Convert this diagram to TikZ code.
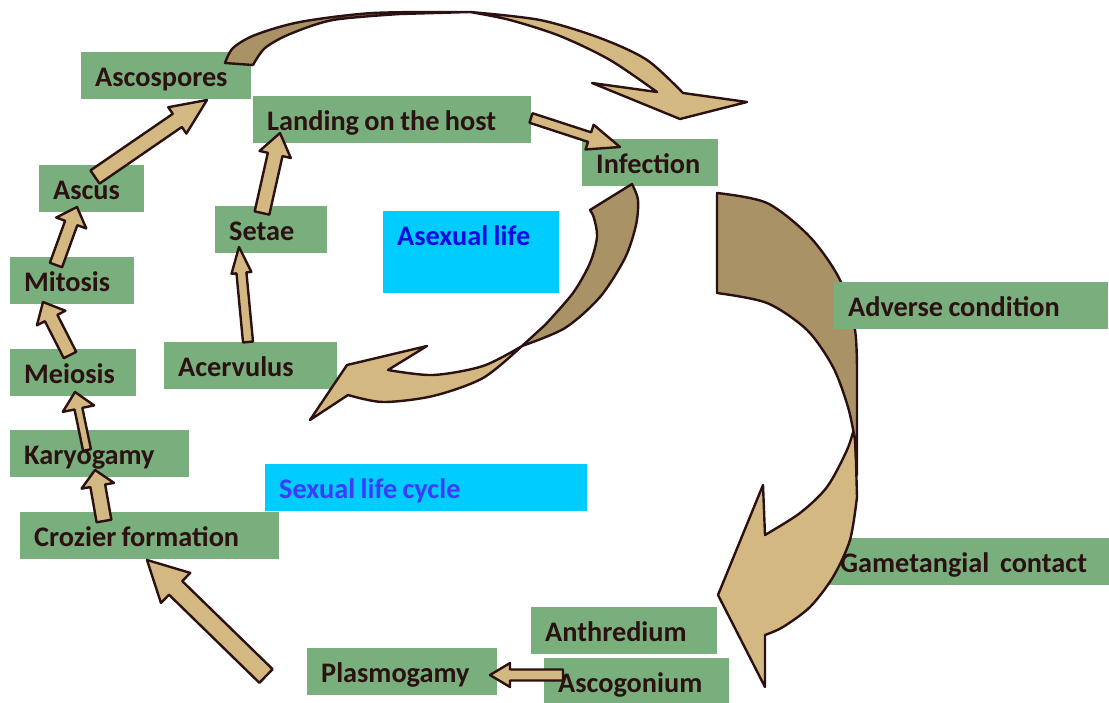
\documentclass[tikz,border=0pt]{standalone}
\usepackage{fontspec}
\setmainfont{Carlito}
\usetikzlibrary{calc}
\definecolor{boxgreen}{RGB}{121,175,125}
\definecolor{skyblue}{RGB}{0,204,255}
\definecolor{ink}{RGB}{43,17,17}
\definecolor{tanlight}{RGB}{212,184,130}
\definecolor{tandark}{RGB}{168,146,102}
\definecolor{asexblue}{RGB}{10,10,225}
\definecolor{sexblue}{RGB}{60,60,250}
\newcommand\blockarrow[5]{%
  \draw[barrow] ($(#1)!#3!90:(#2)$) -- ($(#2)!#5!(#1)!#3!-90:(#1)$)
    -- ($(#2)!#5!(#1)!#4!-90:(#1)$) -- (#2) -- ($(#2)!#5!(#1)!#4!90:(#1)$)
    -- ($(#2)!#5!(#1)!#3!90:(#1)$) -- ($(#1)!#3!-90:(#2)$) -- cycle;}
\begin{document}
\begin{tikzpicture}[x=1pt, y=-1pt, line join=round,
    box/.style={fill=boxgreen, text=ink, anchor=north west, inner xsep=14pt, inner ysep=0pt,
      text height=34pt, text depth=13pt, align=left, text width=#1,
      font=\fontsize{28.3}{32}\selectfont\bfseries,
      execute at begin node={\spaceskip=0.19em\relax}},
    lifebox/.style={box=#1, fill=skyblue},
    barrow/.style={fill=tanlight, draw=ink, line width=2.4pt},
    backface/.style={fill=tandark, draw=ink, line width=2.4pt}]
  \useasboundingbox (0,0) rectangle (1109,702);
  \foreach \x/\y/\w/\n/\t in {81/52/142/ascospores/Ascospores, 253/96/250/landing/Landing on the host,
      582/139/108/infection/Infection, 39/165/77/ascus/Ascus, 215/206/84/setae/Setae,
      10/257/96/mitosis/Mitosis, 10/349/98/meiosis/Meiosis, 164/342/145/acervulus/Acervulus,
      10/430/151/karyogamy/Karyogamy, 20/512/231/crozier/Crozier formation,
      826/538/256/gametangial/Gametangial\ \ contact, 531/607/158/anthredium/Anthredium,
      307/648/162/plasmogamy/Plasmogamy, 544/658/157/ascogonium/Ascogonium}
    \node[box=\w pt] (\n) at (\x,\y) {\t};
  \node[lifebox=148pt, text=asexblue, text depth=48pt] (asexual) at (383,211) {Asexual life};
  \node[lifebox=294pt, text=sexblue] (sexual) at (265,464) {Sexual life cycle};
  % curved arrow to the sexual phase
  \draw[barrow] (855,425) -- plot[smooth] coordinates {(857,497) (850,540) (833,577) (810,607) (783,627) (765,635)}
    -- (765,687) -- (718,595) -- (763,485) -- plot[smooth] coordinates {(765,535) (800,513) (827,487) (847,450) (855,425)} -- cycle;
  \draw[backface] plot[smooth] coordinates {(717,193) (767,203) (810,237) (840,280) (855,330) (857,380)}
    -- (857,475) -- plot[smooth] coordinates {(855,440) (848,407) (833,367) (807,330) (767,303) (717,293)} -- cycle;
  \node[box=246pt] (adverse) at (834,282) {Adverse condition};
  % curved arrow from the ascospores
  \draw[backface] plot[smooth] coordinates {(225,63) (233,48) (255,35) (300,22) (373,13) (470,12)}
    -- plot[smooth] coordinates {(400,14) (333,20) (290,34) (265,48) (253,65)} -- cycle;
  \draw[barrow] plot[smooth] coordinates {(470,12) (540,20) (600,38) (647,60) (683,93)}
    -- (747,102) -- (680,119) -- (592,83) -- plot[smooth] coordinates {(657,92) (610,60) (560,36) (510,20) (470,12)} -- cycle;
  % curved arrow back to the acervulus
  \draw[backface] plot[smooth] coordinates {(632,184) (638,200) (636,225) (625,258) (600,297) (565,328) (522,346)}
    -- plot[smooth] coordinates {(545,325) (573,293) (590,263) (597,237) (594,218) (590,210)} -- cycle;
  \draw[barrow] plot[smooth] coordinates {(522,346) (483,378) (433,396) (383,402) (348,395)}
    -- (310,420) -- (347,365) -- (427,346) -- plot[smooth] coordinates {(388,370) (433,375) (483,366) (522,346)} -- cycle;
  \coordinate (ascus-out) at (95,177);
  \coordinate (ascospores-in) at (207,100);
  \coordinate (mitosis-out) at (56,265);
  \coordinate (ascus-in) at (77,207);
  \coordinate (meiosis-out) at (70,355);
  \coordinate (mitosis-in) at (43,302);
  \coordinate (karyogamy-out) at (87,450);
  \coordinate (meiosis-in) at (75,392);
  \coordinate (crozier-out) at (104,521);
  \coordinate (karyogamy-in) at (95,470);
  \coordinate (plasmogamy-out) at (266,676);
  \coordinate (crozier-in) at (147,560);
  \coordinate (ascogonium-out) at (563,675);
  \coordinate (plasmogamy-in) at (490,675);
  \coordinate (acervulus-out) at (248,342);
  \coordinate (setae-in) at (239,247);
  \coordinate (setae-out) at (262,213);
  \coordinate (landing-in) at (280,133);
  \coordinate (landing-out) at (531,118);
  \coordinate (infection-in) at (620,147);
  \blockarrow{ascus-out}{ascospores-in}{8pt}{16pt}{36pt}
  \blockarrow{mitosis-out}{ascus-in}{6.5pt}{16pt}{17pt}
  \blockarrow{meiosis-out}{mitosis-in}{7pt}{16pt}{18pt}
  \blockarrow{karyogamy-out}{meiosis-in}{4pt}{16pt}{17pt}
  \blockarrow{crozier-out}{karyogamy-in}{7.5pt}{16.5pt}{16pt}
  \blockarrow{plasmogamy-out}{crozier-in}{9.5pt}{21pt}{40pt}
  \blockarrow{ascogonium-out}{plasmogamy-in}{5.5pt}{12pt}{20pt}
  \blockarrow{acervulus-out}{setae-in}{5pt}{10pt}{26pt}
  \blockarrow{setae-out}{landing-in}{7.5pt}{16pt}{22pt}
  \blockarrow{landing-out}{infection-in}{5pt}{13pt}{32pt}
\end{tikzpicture}
\end{document}
